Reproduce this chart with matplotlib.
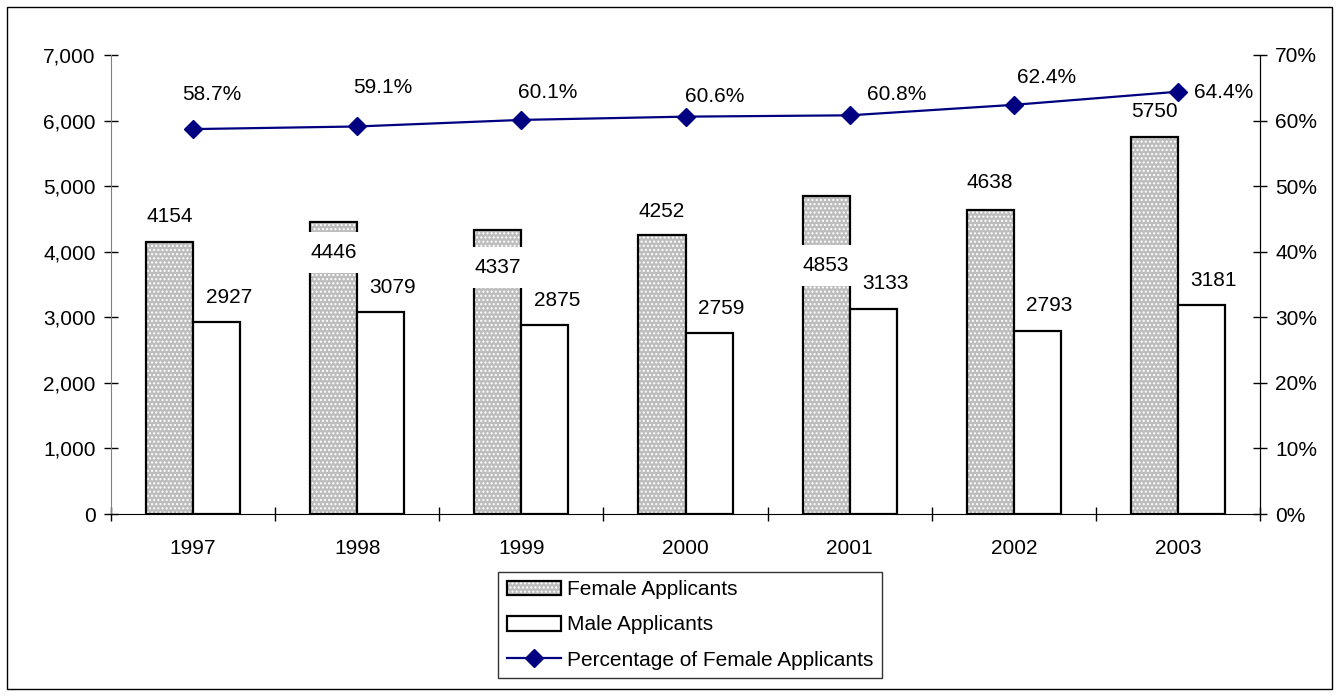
import numpy as np
import matplotlib
matplotlib.use("Agg")
import matplotlib.pyplot as plt
from matplotlib.patches import Patch, Rectangle
from matplotlib.lines import Line2D
from matplotlib.ticker import FuncFormatter, MultipleLocator

years = ["1997", "1998", "1999", "2000", "2001", "2002", "2003"]
female = [4154, 4446, 4337, 4252, 4853, 4638, 5750]
male = [2927, 3079, 2875, 2759, 3133, 2793, 3181]
pct_female = [58.7, 59.1, 60.1, 60.6, 60.8, 62.4, 64.4]

# label placement (pixels)
female_off = [25, -30, -38, 24, -70, 27, 25]
female_boxed = [False, True, True, False, True, False, False]
pct_off = [(19, 35), (26, 39), (26, 27), (29, 20), (47, 21), (33, 27), (46, -1)]

plt.rcParams["font.family"] = ["Liberation Sans", "DejaVu Sans"]
plt.rcParams["font.size"] = 15

fig = plt.figure(figsize=(13.39, 6.96), dpi=100)
ax = fig.add_axes([111 / 1339, 182 / 696, 1149 / 1339, 459 / 696])
ax2 = ax.twinx()

x = np.arange(len(years))
w = 0.287

# female bars: grey with white dot pattern, then black outline on top
ax.bar(x - w / 2, female, w, color="#bdbdbd", edgecolor="white", hatch="....", linewidth=0, zorder=2)
ax.bar(x - w / 2, female, w, fill=False, edgecolor="black", linewidth=1.6, zorder=3)
ax.bar(x + w / 2, male, w, color="white", edgecolor="black", linewidth=1.6, zorder=3)

for i in range(len(years)):
    bb = dict(facecolor="white", edgecolor="none", pad=8) if female_boxed[i] else None
    ax.annotate(str(female[i]), (x[i] - w / 2, female[i]), xytext=(0, female_off[i]),
                textcoords="offset pixels", ha="center", va="center", bbox=bb, zorder=5)
    ax.annotate(str(male[i]), (x[i] + w / 2, male[i]), xytext=(12, 25),
                textcoords="offset pixels", ha="center", va="center", zorder=5)

ax.set_xlim(-0.5, len(years) - 0.5)
ax.set_ylim(0, 7000)
ax.yaxis.set_major_locator(MultipleLocator(1000))
ax.yaxis.set_major_formatter(FuncFormatter(lambda v, p: f"{int(v):,}"))
ax.set_xticks(x)
ax.set_xticklabels(years)
ax.set_xticks(np.arange(len(years) + 1) - 0.5, minor=True)
ax.tick_params(axis="x", which="major", length=0, pad=18)
ax.tick_params(axis="x", which="minor", direction="inout", length=10, width=1)
ax.tick_params(axis="y", direction="inout", length=10, width=1, pad=6)

ax2.plot(x, pct_female, color="#000080", linewidth=1.6, marker="D", markersize=9, zorder=4)
for i in range(len(years)):
    ax2.annotate(f"{pct_female[i]}%", (x[i], pct_female[i]), xytext=pct_off[i],
                 textcoords="offset pixels", ha="center", va="center")
ax2.set_ylim(0, 70)
ax2.yaxis.set_major_locator(MultipleLocator(10))
ax2.yaxis.set_major_formatter(FuncFormatter(lambda v, p: f"{int(v)}%"))
ax2.tick_params(axis="y", direction="inout", length=10, width=1, pad=6)

for a in (ax, ax2):
    a.spines["top"].set_visible(False)
ax.spines["left"].set_color("#808080")
ax2.spines["left"].set_visible(False)
ax2.spines["bottom"].set_visible(False)

handles = [
    (Patch(facecolor="#bdbdbd", edgecolor="white", hatch="....", linewidth=0),
     Patch(fill=False, edgecolor="black", linewidth=1.6)),
    Patch(facecolor="white", edgecolor="black", linewidth=1.6),
    Line2D([], [], color="#000080", linewidth=1.6, marker="D", markersize=9),
]
labels = ["Female Applicants", "Male Applicants", "Percentage of Female Applicants"]
leg = fig.legend(handles, labels, loc="center", bbox_to_anchor=(690 / 1339, 1 - 625 / 696),
                 frameon=True, fancybox=False, edgecolor="black", handlelength=2.6,
                 handletextpad=0.3, labelspacing=0.78, borderpad=0.4, borderaxespad=0)
leg.get_frame().set_linewidth(1)

# chart area border
fig.patches.append(Rectangle((7 / 1339, 7 / 696), 1325 / 1339, 682 / 696, transform=fig.transFigure,
                             fill=False, edgecolor="black", linewidth=1))

fig.savefig("out.png", dpi=100)
